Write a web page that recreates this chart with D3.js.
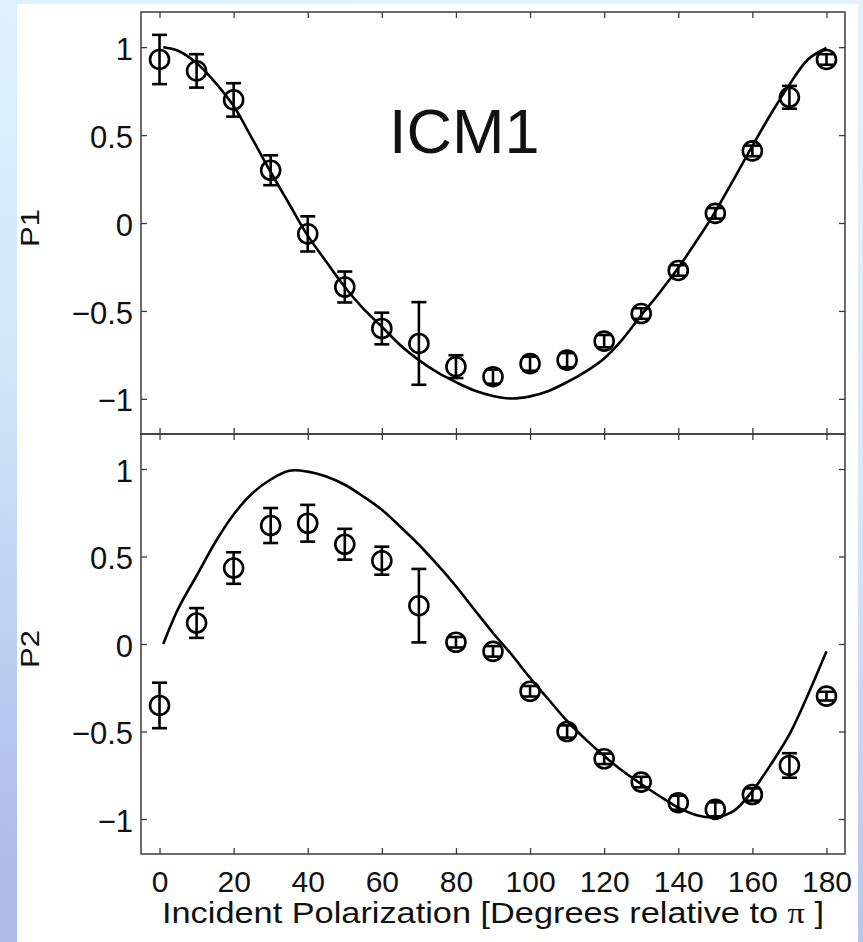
<!DOCTYPE html>
<html>
<head>
<meta charset="utf-8">
<script src="https://cdn.jsdelivr.net/npm/d3@7"></script>
<style>
  html, body { margin: 0; padding: 0; }
  body { width: 863px; height: 942px; overflow: hidden; }
  svg { display: block; }
  text { font-family: "Liberation Sans", Arial, Helvetica, sans-serif; fill: #111; }
</style>
</head>
<body>
<svg id="chart" width="863" height="942"></svg>
<script>
// Incident polarization angles of the measurements (degrees relative to pi)
const angles = [0, 10, 20, 30, 40, 50, 60, 70, 80, 90, 100, 110, 120, 130, 140, 150, 160, 170, 180];

// Measured P1 with its error
const p1Measured = [0.93, 0.865, 0.70, 0.30, -0.062, -0.364, -0.60, -0.685, -0.817, -0.874,
                    -0.80, -0.78, -0.672, -0.515, -0.27, 0.055, 0.41, 0.715, 0.93];
const p1Error    = [0.14, 0.095, 0.095, 0.085, 0.10, 0.088, 0.09, 0.235, 0.065, 0.04,
                    0.04, 0.04, 0.035, 0.03, 0.03, 0.03, 0.03, 0.065, 0.03];

// Measured P2 with its error
const p2Measured = [-0.351, 0.12, 0.434, 0.677, 0.69, 0.57, 0.476, 0.219, 0.01, -0.042,
                    -0.27, -0.50, -0.656, -0.789, -0.907, -0.945, -0.86, -0.694, -0.298];
const p2Error    = [0.13, 0.085, 0.09, 0.10, 0.105, 0.088, 0.08, 0.21, 0.03, 0.03,
                    0.03, 0.035, 0.03, 0.03, 0.04, 0.04, 0.035, 0.07, 0.025];

// Model curves
const modelAngles = [1, 5, 10, 15, 20, 25, 30, 35, 40, 45, 50, 55, 60, 65, 70, 75, 80, 85, 90,
                     95, 100, 105, 110, 115, 120, 125, 130, 135, 140, 145, 150, 155, 160, 165, 170, 175, 180];
const p1Model = [1.0, 0.98, 0.91, 0.80, 0.665, 0.48, 0.29, 0.108, -0.072, -0.22, -0.364, -0.487, -0.59,
                 -0.695, -0.78, -0.85, -0.905, -0.953, -0.984, -0.998, -0.986, -0.955, -0.905, -0.845, -0.77,
                 -0.66, -0.525, -0.395, -0.255, -0.10, 0.065, 0.25, 0.438, 0.62, 0.787, 0.93, 0.995];
const p2Model = [0.0, 0.2, 0.39, 0.58, 0.74, 0.86, 0.94, 0.99, 0.985, 0.957, 0.91, 0.843, 0.767,
                 0.67, 0.567, 0.453, 0.33, 0.196, 0.063, -0.06, -0.194, -0.317, -0.44, -0.545, -0.64,
                 -0.726, -0.80, -0.87, -0.935, -0.978, -0.99, -0.954, -0.84, -0.688, -0.517, -0.29, -0.042];

const xTicks = [0, 20, 40, 60, 80, 100, 120, 140, 160, 180];
const yTicks = [-1, -0.5, 0, 0.5, 1];
const panelNames = ["P1", "P2"];
const titleText = "ICM1";
const xTitleParts = ["Incident Polarization [Degrees relative to ", "\u03C0", " ]"];

const svg = d3.select("#chart");

// Slide-style backdrop: soft blue gradient with a white sheet on top
const defs = svg.append("defs");
const grad = defs.append("linearGradient")
  .attr("id", "bg").attr("x1", "0.6").attr("y1", "0").attr("x2", "0.4").attr("y2", "1");
grad.append("stop").attr("offset", "0").attr("stop-color", "#e2f3fd");
grad.append("stop").attr("offset", "0.45").attr("stop-color", "#d3e9fa");
grad.append("stop").attr("offset", "1").attr("stop-color", "#aebbe9");
svg.append("rect").attr("width", 863).attr("height", 942).attr("fill", "url(#bg)");
svg.append("rect").attr("x", 17).attr("y", 4).attr("width", 841).attr("height", 938).attr("fill", "#ffffff");

const left = 141, right = 845;
const x = d3.scaleLinear().domain([-5, 185]).range([left, right]);

const panels = [
  { name: panelNames[0], top: 12, bottom: 434, measured: p1Measured, error: p1Error, model: p1Model },
  { name: panelNames[1], top: 434, bottom: 854, measured: p2Measured, error: p2Error, model: p2Model }
];

const frameColor = "#3c3c3c";
const tickLen = 6;
const yFormat = d3.format("");

panels.forEach((p, pi) => {
  const y = d3.scaleLinear().domain([-1.2, 1.2]).range([p.bottom, p.top]);
  const g = svg.append("g");

  // Left axis with labels, ticks pointing inward
  const yl = g.append("g").attr("transform", `translate(${left},0)`)
    .call(d3.axisLeft(y).tickValues(yTicks).tickSize(-tickLen).tickPadding(8).tickFormat(yFormat));
  // Right axis ticks
  g.append("g").attr("transform", `translate(${right},0)`)
    .call(d3.axisRight(y).tickValues(yTicks).tickSize(-tickLen).tickFormat(""));
  // Top and bottom ticks
  g.append("g").attr("transform", `translate(0,${p.top})`)
    .call(d3.axisTop(x).tickValues(xTicks).tickSize(-tickLen).tickFormat(""));
  const xb = g.append("g").attr("transform", `translate(0,${p.bottom})`)
    .call(d3.axisBottom(x).tickValues(xTicks).tickSize(-tickLen).tickPadding(17)
      .tickFormat(pi === 1 ? d3.format("d") : ""));

  g.selectAll(".domain").remove();
  g.selectAll(".tick line").attr("stroke", frameColor).attr("stroke-width", 1.3);
  yl.selectAll("text").attr("font-size", 31).attr("dy", "0.39em").attr("fill", "#111")
    .attr("font-family", "'Liberation Sans', Arial, sans-serif");
  xb.selectAll("text").attr("font-size", 30).attr("fill", "#111")
    .attr("font-family", "'Liberation Sans', Arial, sans-serif");

  // Frame
  g.append("rect").attr("x", left).attr("y", p.top)
    .attr("width", right - left).attr("height", p.bottom - p.top)
    .attr("fill", "none").attr("stroke", frameColor).attr("stroke-width", 1.5);

  // Model curve
  const line = d3.line()
    .x((d, i) => x(modelAngles[i]))
    .y(d => y(d))
    .curve(d3.curveCatmullRom.alpha(0.5));
  g.append("path").datum(p.model)
    .attr("d", line).attr("fill", "none").attr("stroke", "#000").attr("stroke-width", 2.6)
    .attr("stroke-linejoin", "round");

  // Error bars
  const cap = 7.5;
  const eb = g.append("g").attr("stroke", "#000").attr("stroke-width", 2.6).attr("fill", "none");
  angles.forEach((a, i) => {
    const cx = x(a), hi = y(p.measured[i] + p.error[i]), lo = y(p.measured[i] - p.error[i]);
    eb.append("line").attr("x1", cx).attr("x2", cx).attr("y1", hi).attr("y2", lo);
    eb.append("line").attr("x1", cx - cap).attr("x2", cx + cap).attr("y1", hi).attr("y2", hi);
    eb.append("line").attr("x1", cx - cap).attr("x2", cx + cap).attr("y1", lo).attr("y2", lo);
  });

  // Measurement markers
  g.append("g").selectAll("circle").data(p.measured).join("circle")
    .attr("cx", (d, i) => x(angles[i]))
    .attr("cy", d => y(d))
    .attr("r", 9.5)
    .attr("fill", "none").attr("stroke", "#000").attr("stroke-width", 2.6);

  // Panel label
  const cy = (p.top + p.bottom) / 2 + 5;
  svg.append("text")
    .attr("transform", `translate(39,${cy}) rotate(-90)`)
    .attr("text-anchor", "middle")
    .attr("font-size", 25)
    .attr("textLength", 38).attr("lengthAdjust", "spacingAndGlyphs")
    .text(p.name);
});

// Plot title inside the upper panel
svg.append("text")
  .attr("x", 389).attr("y", 153)
  .attr("font-size", 63)
  .attr("fill", "#000")
  .text(titleText);

// Horizontal axis title, with a serif pi
const xt = svg.append("text")
  .attr("x", (left + right) / 2).attr("y", 923)
  .attr("text-anchor", "middle")
  .attr("font-size", 30)
  .attr("textLength", 662).attr("lengthAdjust", "spacingAndGlyphs");
xt.append("tspan").text(xTitleParts[0]);
xt.append("tspan").attr("font-family", "'Liberation Serif', 'DejaVu Serif', serif").text(xTitleParts[1]);
xt.append("tspan").text(xTitleParts[2]);
</script>
</body>
</html>
